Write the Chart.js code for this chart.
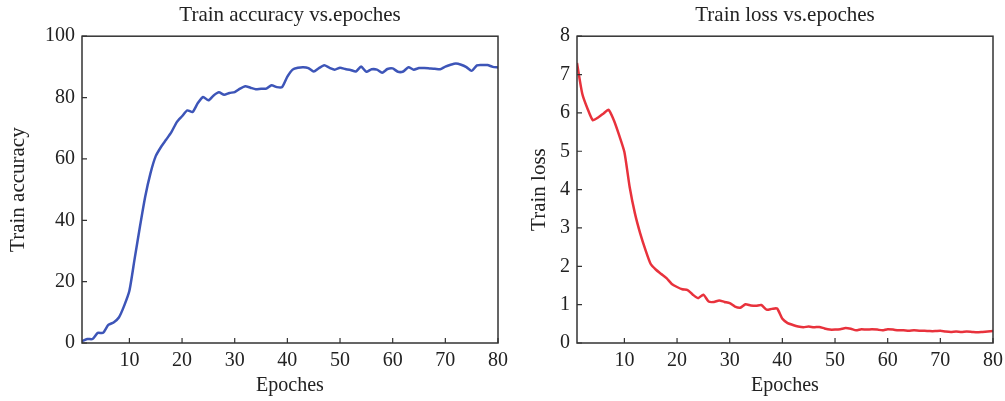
<!DOCTYPE html>
<html><head><meta charset="utf-8">
<script src="https://cdn.jsdelivr.net/npm/chart.js@4.4.1/dist/chart.umd.min.js"></script>
<style>
html,body{margin:0;padding:0;background:#fff;width:1005px;height:401px;overflow:hidden}
#w1{position:absolute;left:0;top:0;width:520px;height:401px}
#w2{position:absolute;left:505px;top:0;width:500px;height:401px}
</style></head><body>
<div id="w1"><canvas id="c1"></canvas></div>
<div id="w2"><canvas id="c2"></canvas></div>
<script>
const epochs = [1,2,3,4,5,6,7,8,9,10,11,12,13,14,15,16,17,18,19,20,21,22,23,24,25,26,27,28,29,30,31,32,33,34,35,36,37,38,39,40,41,42,43,44,45,46,47,48,49,50,51,52,53,54,55,56,57,58,59,60,61,62,63,64,65,66,67,68,69,70,71,72,73,74,75,76,77,78,79,80];
const trainAccuracy = [0.6,1.3,1.3,3.3,3.3,5.9,6.7,8.3,12.1,17.0,27.5,37.9,47.7,55.3,60.9,63.9,66.3,68.8,72.0,73.9,75.8,75.3,78.2,80.2,79.1,80.7,81.7,80.9,81.5,81.8,82.9,83.7,83.2,82.7,82.9,82.9,84.0,83.4,83.4,86.8,89.1,89.7,89.9,89.6,88.5,89.6,90.5,89.7,89.1,89.7,89.3,89.0,88.5,90.1,88.4,89.2,89.1,88.1,89.3,89.5,88.4,88.5,89.9,89.1,89.6,89.6,89.5,89.4,89.2,90.1,90.7,91.1,90.7,89.9,88.7,90.5,90.6,90.6,90.0,89.8];
const trainLoss = [7.3,6.5,6.11,5.81,5.88,5.98,6.08,5.81,5.42,4.98,4.07,3.38,2.86,2.43,2.06,1.91,1.80,1.69,1.54,1.46,1.40,1.38,1.26,1.17,1.26,1.08,1.07,1.11,1.07,1.04,0.95,0.92,1.01,0.98,0.97,0.99,0.87,0.89,0.90,0.63,0.52,0.47,0.43,0.41,0.43,0.41,0.42,0.38,0.35,0.35,0.36,0.39,0.37,0.33,0.36,0.35,0.36,0.35,0.33,0.36,0.35,0.33,0.33,0.32,0.33,0.32,0.32,0.31,0.31,0.32,0.30,0.29,0.30,0.29,0.30,0.29,0.28,0.29,0.30,0.31];
const xTicks = [10,20,30,40,50,60,70,80];
const accTicks = [0,20,40,60,80,100];
const lossTicks = [0,1,2,3,4,5,6,7,8];

const FONT = "'Liberation Serif','Times New Roman',serif";
const TXT = '#222';

const frame = {
  id: 'frame',
  afterDatasetsDraw(chart) {
    const {ctx, chartArea: a, scales} = chart;
    ctx.save();
    ctx.strokeStyle = '#333';
    ctx.lineWidth = 1.5;
    ctx.strokeRect(a.left, a.top, a.right - a.left, a.bottom - a.top);
    ctx.lineWidth = 1.2;
    ctx.beginPath();
    scales.x.ticks.forEach(t => {
      const px = scales.x.getPixelForValue(t.value);
      ctx.moveTo(px, a.bottom); ctx.lineTo(px, a.bottom - 5);
    });
    scales.y.ticks.forEach(t => {
      const py = scales.y.getPixelForValue(t.value);
      ctx.moveTo(a.left, py); ctx.lineTo(a.left + 5, py);
    });
    ctx.stroke();
    ctx.restore();
  }
};

function noPad(s) {
  s.paddingLeft = 0; s.paddingRight = 0; s.paddingTop = 0; s.paddingBottom = 0;
}

function makeChart(id, cfg) {
  return new Chart(document.getElementById(id), {
    type: 'line',
    data: {
      datasets: [{
        data: epochs.map((e, i) => ({x: e, y: cfg.values[i]})),
        borderColor: cfg.color,
        borderWidth: 2.5,
        pointRadius: 0,
        tension: 0.2,
        fill: false
      }]
    },
    options: {
      responsive: true,
      maintainAspectRatio: false,
      animation: false,
      devicePixelRatio: 1,
      layout: {padding: {left: 0, right: cfg.padRight, top: 0, bottom: 0}},
      plugins: {
        legend: {display: false},
        tooltip: {enabled: false},
        title: {
          display: true, text: cfg.title, fullSize: false, color: TXT,
          font: {family: FONT, size: 21, weight: 'normal'},
          padding: {top: 3, bottom: 8}
        }
      },
      scales: {
        x: {
          type: 'linear', min: 1, max: 80,
          afterBuildTicks: s => { s.ticks = xTicks.map(v => ({value: v})); },
          afterFit: s => { s.height = 58; noPad(s); },
          grid: {display: false, drawTicks: false},
          border: {display: false},
          ticks: {color: TXT, padding: 6, maxRotation: 0, autoSkip: false, font: {family: FONT, size: 20}},
          title: {display: true, text: 'Epoches', color: TXT, font: {family: FONT, size: 20}, padding: {top: 0, bottom: 3}}
        },
        y: {
          type: 'linear', min: cfg.yMin, max: cfg.yMax,
          afterBuildTicks: s => { s.ticks = cfg.yTicks.map(v => ({value: v})); },
          afterFit: s => { s.width = cfg.yWidth; noPad(s); },
          grid: {display: false, drawTicks: false},
          border: {display: false},
          ticks: {color: TXT, padding: 7, autoSkip: false, font: {family: FONT, size: 20}},
          title: {display: true, text: cfg.yTitle, color: TXT, font: {family: FONT, size: 21}, padding: {top: cfg.yTitlePad, bottom: 0}}
        }
      }
    },
    plugins: [frame]
  });
}

makeChart('c1', {
  values: trainAccuracy, color: '#3d55b8', title: 'Train accuracy vs.epoches',
  yTitle: 'Train accuracy', yMin: 0, yMax: 100, yTicks: accTicks,
  yWidth: 82, padRight: 22, yTitlePad: 6
});
makeChart('c2', {
  values: trainLoss, color: '#e8323c', title: 'Train loss vs.epoches',
  yTitle: 'Train loss', yMin: 0, yMax: 8, yTicks: lossTicks,
  yWidth: 72, padRight: 12, yTitlePad: 22
});
</script>
</body></html>
